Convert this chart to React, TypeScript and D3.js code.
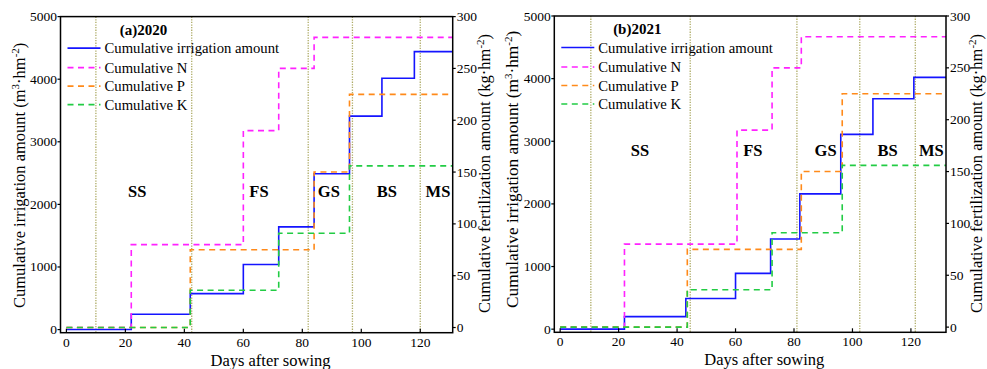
import React from "react";
import * as d3 from "d3";

const xTicks = [0, 20, 40, 60, 80, 100, 120];
const leftTicks = [0, 1000, 2000, 3000, 4000, 5000];
const rightTicks = [0, 50, 100, 150, 200, 250, 300];
const legendLabels = ["Cumulative irrigation amount", "Cumulative N", "Cumulative P", "Cumulative K"];
const stageNames = ["SS", "FS", "GS", "BS", "MS"];
const panelTitles = ["(a)2020", "(b)2021"];

// 2020
const irrDays2020 = [0, 22, 42, 60, 72, 84, 96, 107, 118];
const irrVals2020 = [0, 245, 575, 1040, 1640, 2490, 3410, 4015, 4440];
const nDays2020 = [0, 22, 60, 72, 84];
const nVals2020 = [0, 80, 190, 250, 280];
const pDays2020 = [0, 42, 84, 96];
const pVals2020 = [0, 75, 150, 225];
const kDays2020 = [0, 42, 72, 96];
const kVals2020 = [0, 36, 91, 156];
const stageBounds2020 = [10, 42.5, 82, 97, 120];
const stageLabelDays2020 = [24, 65.3, 89, 108.7, 126];
const stageLabelLevel2020 = 2200;
const dayDomain2020 = [-2, 131];

// 2021
const irrDays2021 = [0, 22, 43, 60, 72, 82, 96, 107, 121];
const irrVals2021 = [0, 200, 490, 890, 1440, 2160, 3110, 3680, 4020];
const nDays2021 = [0, 22, 60.5, 72.5, 82.5];
const nVals2021 = [0, 80, 190, 250, 280];
const pDays2021 = [0, 43.5, 82.5, 96.5];
const pVals2021 = [0, 75, 150, 225];
const kDays2021 = [0, 43.5, 72.5, 96.5];
const kVals2021 = [0, 36, 91, 156];
const stageBounds2021 = [10.5, 44.5, 81, 102.5, 121.5];
const stageLabelDays2021 = [27.3, 65.9, 90.8, 112, 127];
const stageLabelLevel2021 = 2850;
const dayDomain2021 = [-2, 132];

const irrDomain = [-50, 5000];
const fertDomain = [-5, 300];

const FONT = "'Liberation Serif', 'Times New Roman', 'DejaVu Serif', serif";
const COLORS = ["#1414ff", "#ff22ff", "#ff8a1a", "#22cc44"];

type PanelProps = {
  x0: number; x1: number; top: number; bottom: number;
  title: string;
  dayDomain: number[];
  irr: [number[], number[]];
  n: [number[], number[]];
  p: [number[], number[]];
  k: [number[], number[]];
  bounds: number[];
  labelDays: number[];
  labelLevel: number;
  leftTitleX: number; rightTitleX: number;
  leftTitleSize: number;
};

function Panel(props: PanelProps) {
  const { x0, x1, top, bottom } = props;
  const x = d3.scaleLinear().domain(props.dayDomain).range([x0, x1]);
  const yL = d3.scaleLinear().domain(irrDomain).range([bottom, top]);
  const yR = d3.scaleLinear().domain(fertDomain).range([bottom, top]);
  const endDay = props.dayDomain[1];

  const mk = (s: [number[], number[]], y: d3.ScaleLinear<number, number>) => {
    const pts: [number, number][] = s[0].map((d, i) => [d, s[1][i]]);
    pts.push([endDay, s[1][s[1].length - 1]]);
    return d3.line<[number, number]>().x(d => x(d[0])).y(d => y(d[1])).curve(d3.curveStepAfter)(pts) || "";
  };

  const series = [
    { d: mk(props.irr, yL), dash: undefined as string | undefined },
    { d: mk(props.n, yR), dash: "6,4.5" },
    { d: mk(props.p, yR), dash: "6,4.5" },
    { d: mk(props.k, yR), dash: "6,4.5" },
  ];

  const legendRows = [31.5, 51, 69.5, 88];
  const tf = { fontFamily: FONT } as React.CSSProperties;

  return (
    <g>
      {props.bounds.map((b, i) => (
        <line key={"b" + i} x1={x(b)} x2={x(b)} y1={top} y2={bottom}
          stroke="#aeab66" strokeWidth={1.3} strokeDasharray="1.3,1.3" />
      ))}
      {series.map((s, i) => (
        <path key={"s" + i} d={s.d} fill="none" stroke={COLORS[i]} strokeWidth={1.6}
          strokeDasharray={s.dash} />
      ))}
      {stageNames.map((nm, i) => (
        <text key={"st" + i} style={tf} x={x(props.labelDays[i])} y={yL(props.labelLevel)}
          textAnchor="middle" dominantBaseline="central" fontWeight="bold" fontSize={16.5}>{nm}</text>
      ))}
      <text style={tf} x={x0 + 83} y={top + 18} textAnchor="middle" fontWeight="bold" fontSize={15}>{props.title}</text>
      {legendLabels.map((lb, i) => (
        <g key={"lg" + i}>
          <line x1={x0 + 7} x2={x0 + 40} y1={top + legendRows[i]} y2={top + legendRows[i]}
            stroke={COLORS[i]} strokeWidth={1.6} strokeDasharray={i === 0 ? undefined : "6,4.5"} />
          <text style={tf} x={x0 + 44} y={top + legendRows[i] + 5} fontSize={14.7}>{lb}</text>
        </g>
      ))}
      <rect x={x0} y={top} width={x1 - x0} height={bottom - top} fill="none" stroke="#000" strokeWidth={1.5} />
      {xTicks.map(t => (
        <g key={"xt" + t}>
          <line x1={x(t)} x2={x(t)} y1={bottom} y2={bottom - 4} stroke="#000" strokeWidth={1.2} />
          <text style={tf} x={x(t)} y={bottom + 14} textAnchor="middle" fontSize={13.5}>{t}</text>
        </g>
      ))}
      {leftTicks.map(t => (
        <g key={"yl" + t}>
          <line x1={x0} x2={x0 - 3} y1={yL(t)} y2={yL(t)} stroke="#000" strokeWidth={1.2} />
          <text style={tf} x={x0 - 3.5} y={yL(t)} textAnchor="end" dominantBaseline="central" fontSize={13.5}>{t}</text>
        </g>
      ))}
      {rightTicks.map(t => (
        <g key={"yr" + t}>
          <line x1={x1} x2={x1 + 3} y1={yR(t)} y2={yR(t)} stroke="#000" strokeWidth={1.2} />
          <text style={tf} x={x1 + 4} y={yR(t)} textAnchor="start" dominantBaseline="central" fontSize={13.5}>{t}</text>
        </g>
      ))}
      <text style={tf} x={x0 + 210} y={bottom + 33} textAnchor="middle" fontSize={16.5}>Days after sowing</text>
      <text style={tf} transform={`translate(${props.leftTitleX},${308}) rotate(-90)`} textAnchor="start" fontSize={props.leftTitleSize}>
        Cumulative irrigation amount (m<tspan dy={-6} fontSize={11}>3</tspan><tspan dy={6}>·hm</tspan><tspan dy={-6} fontSize={11}>-2</tspan><tspan dy={6}>)</tspan>
      </text>
      <text style={tf} transform={`translate(${props.rightTitleX},${313}) rotate(-90)`} textAnchor="start" fontSize={16.5}>
        Cumulative fertilization amount (kg·hm<tspan dy={-6} fontSize={11}>-2</tspan><tspan dy={6}>)</tspan>
      </text>
    </g>
  );
}

export default function App() {
  return (
    <svg width={987} height={369} style={{ position: "absolute", left: 0, top: 0, background: "#fff", fontFamily: FONT }}>
      <rect x={0} y={0} width={987} height={369} fill="#fff" />
      <Panel x0={60.5} x1={452.7} top={16.6} bottom={332.7} title={panelTitles[0]}
        dayDomain={dayDomain2020}
        irr={[irrDays2020, irrVals2020]} n={[nDays2020, nVals2020]}
        p={[pDays2020, pVals2020]} k={[kDays2020, kVals2020]}
        bounds={stageBounds2020} labelDays={stageLabelDays2020} labelLevel={stageLabelLevel2020}
        leftTitleX={25} rightTitleX={490} leftTitleSize={16.5} />
      <Panel x0={554.3} x1={946} top={16} bottom={332.3} title={panelTitles[1]}
        dayDomain={dayDomain2021}
        irr={[irrDays2021, irrVals2021]} n={[nDays2021, nVals2021]}
        p={[pDays2021, pVals2021]} k={[kDays2021, kVals2021]}
        bounds={stageBounds2021} labelDays={stageLabelDays2021} labelLevel={stageLabelLevel2021}
        leftTitleX={518} rightTitleX={982} leftTitleSize={17.3} />
    </svg>
  );
}
